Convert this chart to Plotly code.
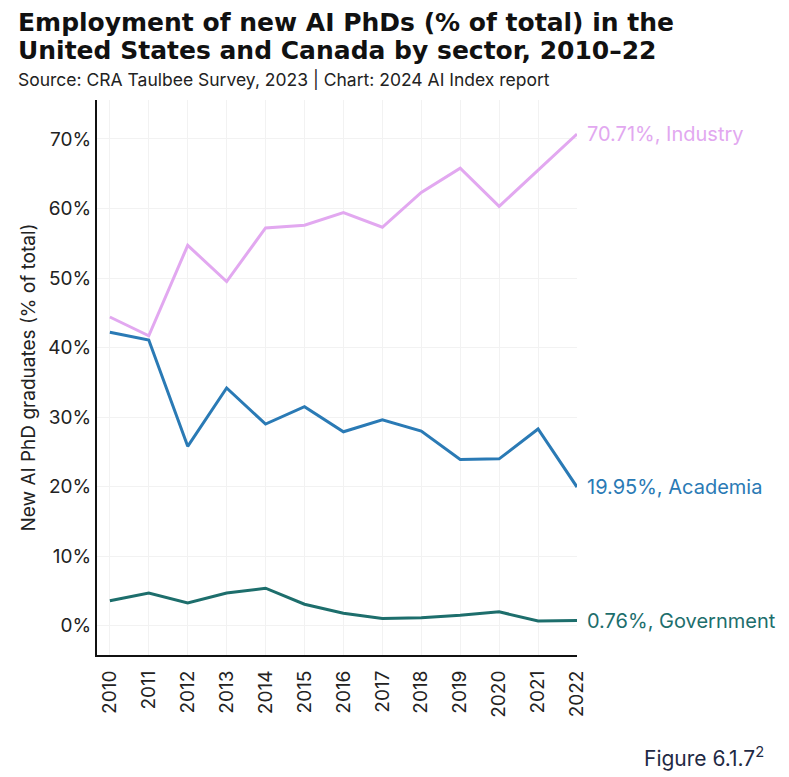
import plotly.graph_objects as go

years = list(range(2010, 2023))
industry = [44.4, 41.7, 54.7, 49.5, 57.2, 57.6, 59.4, 57.3, 62.3, 65.8, 60.3, 65.5, 70.71]
academia = [42.2, 41.1, 25.8, 34.2, 29.0, 31.5, 27.9, 29.6, 28.0, 23.9, 24.0, 28.3, 19.95]
government = [3.6, 4.7, 3.3, 4.7, 5.4, 3.1, 1.8, 1.05, 1.15, 1.5, 2.0, 0.7, 0.76]
y_ticks = [0, 10, 20, 30, 40, 50, 60, 70]

series = [
    ("Industry", industry, "#e2a8f0"),
    ("Academia", academia, "#2a7ab5"),
    ("Government", government, "#1d6e6c"),
]

FONT = "Inter, Roboto, sans-serif"
TFONT = "DejaVu Sans, sans-serif"
OFF = 8  # page body margin
W, H = 789 - OFF, 777 - OFF
L, R, T, B = 97 - OFF, 577 - OFF, 100 - OFF, 655 - OFF

def px(x):
    return (x - OFF - L) / (R - L)
def py(y):
    return (B - (y - OFF)) / (B - T)

fig = go.Figure()
for name, vals, col in series:
    fig.add_trace(go.Scatter(x=years, y=vals, mode="lines", name=name,
                             line=dict(color=col, width=3), showlegend=False))
    fig.add_annotation(x=years[-1], y=vals[-1], xref="x", yref="y",
                       text=f"{vals[-1]:.2f}%, {name}", showarrow=False,
                       xanchor="left", yanchor="middle", xshift=8,
                       font=dict(family=FONT, size=20, color=col))

fig.add_annotation(xref="paper", yref="paper", x=px(16), y=py(22), xanchor="left", yanchor="middle",
                   text="<b>Employment of new AI PhDs (% of total) in the</b>",
                   showarrow=False, align="left",
                   font=dict(family=TFONT, size=25, color="#111111"))
fig.add_annotation(xref="paper", yref="paper", x=px(16), y=py(50), xanchor="left", yanchor="middle",
                   text="<b>United States and Canada by sector, 2010–22</b>",
                   showarrow=False, align="left",
                   font=dict(family=TFONT, size=25, color="#111111"))
fig.add_annotation(xref="paper", yref="paper", x=px(16), y=py(80), xanchor="left", yanchor="middle",
                   text="Source: CRA Taulbee Survey, 2023 | Chart: 2024 AI Index report",
                   showarrow=False, font=dict(family=FONT, size=17.5, color="#222222"))
fig.add_annotation(xref="paper", yref="paper", x=px(766), y=py(757), xanchor="right", yanchor="middle",
                   text="Figure 6.1.7<sup>2</sup>", showarrow=False,
                   font=dict(family=FONT, size=21, color="#1f2a44"))

fig.update_layout(
    width=W, height=H,
    margin=dict(l=L, r=W - R, t=T, b=H - B, pad=0),
    plot_bgcolor="white", paper_bgcolor="white",
    font=dict(family=FONT, size=19, color="#222222"),
    xaxis=dict(range=[2009.67, 2022], tickvals=years, ticktext=[str(y) for y in years],
               tickangle=-90, showgrid=True, gridcolor="#f2f2f2", gridwidth=1,
               showline=True, linecolor="#111111", linewidth=2, ticks="",
               automargin=False, ticklabelstandoff=6,
               zeroline=False, tickfont=dict(family=FONT, size=19, color="#222222")),
    yaxis=dict(range=[-4.2, 75.6], tickvals=y_ticks, ticktext=[f"{v}%" for v in y_ticks],
               showgrid=True, gridcolor="#f2f2f2", gridwidth=1,
               showline=True, linecolor="#111111", linewidth=2, ticks="",
               automargin=False, ticklabelstandoff=0,
               zeroline=False, tickfont=dict(family=FONT, size=19, color="#222222"),
               title=dict(text="New AI PhD graduates (% of total)", standoff=8,
                          font=dict(family=FONT, size=19, color="#222222"))),
)

fig.write_html("out.html")
